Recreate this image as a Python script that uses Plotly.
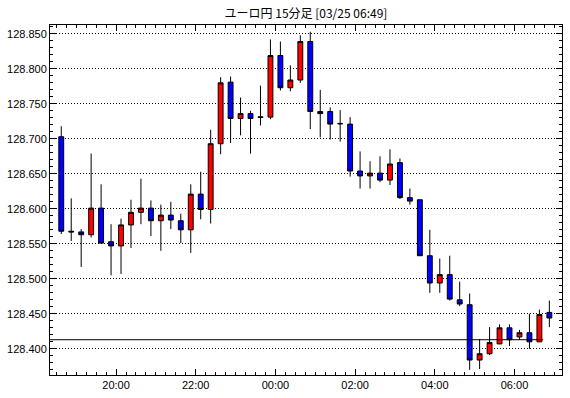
import pandas as pd
import plotly.graph_objects as go

# ---- data (15-minute candles, EUR/JPY) ----
start_time = "2025-03-24 18:30"
n_candles = 50

opens = [128.703, 128.568, 128.567, 128.563, 128.601, 128.553, 128.547, 128.577, 128.595, 128.601,
         128.583, 128.591, 128.583, 128.570, 128.621, 128.599, 128.693, 128.781, 128.729, 128.736,
         128.7315, 128.731, 128.819, 128.773, 128.784, 128.839, 128.736, 128.739, 128.722, 128.721,
         128.654, 128.647, 128.651, 128.641, 128.666, 128.616, 128.613, 128.533, 128.494, 128.506,
         128.470, 128.463, 128.384, 128.393, 128.407, 128.430, 128.417, 128.423, 128.410, 128.452]
highs = [128.718, 128.615, 128.571, 128.679, 128.635, 128.578, 128.586, 128.613, 128.643, 128.612,
         128.606, 128.610, 128.593, 128.635, 128.653, 128.713, 128.788, 128.789, 128.759, 128.740,
         128.776, 128.842, 128.839, 128.805, 128.848, 128.853, 128.770, 128.745, 128.741, 128.731,
         128.682, 128.668, 128.675, 128.685, 128.672, 128.629, 128.613, 128.570, 128.529, 128.533,
         128.496, 128.479, 128.414, 128.431, 128.435, 128.435, 128.427, 128.450, 128.456, 128.469]
lows = [128.564, 128.554, 128.517, 128.559, 128.551, 128.505, 128.507, 128.544, 128.578, 128.561,
        128.540, 128.571, 128.551, 128.537, 128.585, 128.579, 128.678, 128.694, 128.705, 128.679,
        128.719, 128.728, 128.769, 128.768, 128.780, 128.714, 128.702, 128.699, 128.696, 128.646,
        128.629, 128.629, 128.638, 128.634, 128.614, 128.606, 128.533, 128.480, 128.480, 128.469,
        128.461, 128.370, 128.371, 128.391, 128.407, 128.404, 128.413, 128.400, 128.410, 128.431]
closes = [128.568, 128.567, 128.563, 128.601, 128.551, 128.547, 128.577, 128.595, 128.601, 128.583,
          128.591, 128.584, 128.570, 128.621, 128.599, 128.693, 128.780, 128.729, 128.736, 128.729,
          128.7305, 128.819, 128.773, 128.784, 128.839, 128.739, 128.739, 128.721, 128.7215, 128.654,
          128.647, 128.651, 128.641, 128.664, 128.616, 128.611, 128.533, 128.494, 128.506, 128.471,
          128.464, 128.384, 128.393, 128.409, 128.430, 128.413, 128.423, 128.410, 128.449, 128.444]

ref_price = 128.413
y_ticks = [128.400, 128.450, 128.500, 128.550, 128.600, 128.650, 128.700, 128.750, 128.800, 128.850]
title_text = "ユーロ円 15分足 [03/25 06:49]"

# ---- build ----
step = pd.Timedelta(minutes=15)
starts = pd.date_range(start_time, periods=n_candles, freq="15min")
centers = starts + step / 2  # draw each candle in the middle of its 15-minute slot

x_lo = centers[0] - step * 1.13
x_hi = centers[0] + step * 50.27
line_end = centers[48] + step * 0.36

fig = go.Figure(go.Candlestick(
    x=centers, open=opens, high=highs, low=lows, close=closes,
    increasing=dict(fillcolor="#ff0000", line=dict(color="#000000", width=1)),
    decreasing=dict(fillcolor="#0000ff", line=dict(color="#000000", width=1)),
    whiskerwidth=0, hoverinfo="skip", showlegend=False,
))

fig.add_shape(type="line", xref="x", yref="y", x0=x_lo, x1=line_end,
              y0=ref_price, y1=ref_price, line=dict(color="#000000", width=1), layer="above")

axis_font = dict(family="Liberation Sans, DejaVu Sans, sans-serif", size=11, color="#000000")

fig.update_layout(
    width=570, height=398,
    margin=dict(l=49, r=7, t=25, b=23, pad=0),
    paper_bgcolor="#ffffff", plot_bgcolor="#ffffff",
    boxgap=0.3,
    title=dict(text=title_text, x=0.5368, xanchor="center",
               y=1 - 14 / 398, yanchor="middle",
               font=dict(family="Noto Sans CJK JP, sans-serif", size=12, color="#000000")),
    xaxis=dict(
        type="date", range=[x_lo, x_hi], rangeslider=dict(visible=False),
        showline=True, linecolor="#000000", linewidth=1, mirror="ticks",
        showgrid=False, zeroline=False,
        ticks="inside", ticklen=6, tickcolor="#000000", tickwidth=1,
        tick0="2025-03-24 20:00", dtick=7200000, tickformat="%H:%M",
        tickfont=axis_font,
        minor=dict(ticks="inside", ticklen=3, tickcolor="#000000", dtick=900000,
                   tick0="2025-03-24 18:30", showgrid=False),
    ),
    yaxis=dict(
        range=[128.3626, 128.8626],
        showline=True, linecolor="#000000", linewidth=1, mirror="ticks",
        showgrid=True, gridcolor="#000000", gridwidth=1, griddash="1px,2px",
        zeroline=False,
        ticks="inside", ticklen=6, tickcolor="#000000", tickwidth=1,
        tickmode="array", tickvals=y_ticks, ticktext=[f"{v:.3f}" for v in y_ticks],
        tickfont=axis_font,
        minor=dict(ticks="inside", ticklen=3, tickcolor="#000000", dtick=0.01,
                   tick0=128.4, showgrid=False),
    ),
)

fig.write_html("out.html")
